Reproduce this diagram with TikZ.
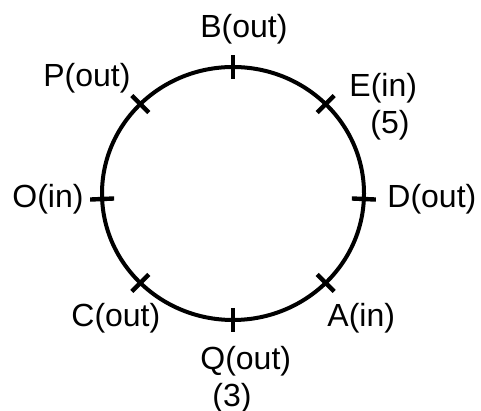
\documentclass[tikz,border=0pt]{standalone}
\usepackage{fontspec}
\setmainfont{Liberation Sans}
\begin{document}
\begin{tikzpicture}[x=0.5pt, y=0.5pt, ring/.style={line width=2pt}, tickmark/.style={line width=2.2pt},
  lbl/.style={inner sep=0pt, anchor=base west, font=\fontsize{16}{18.5}\selectfont}]
  \useasboundingbox (0,0) rectangle (481,411);
  \coordinate (ctr) at (233,217.5);
  \draw[ring] (ctr) ellipse [x radius=131, y radius=126.5];
  \foreach \a in {90,45,-2.5,-45,-90,-135,182.5,135}
    \draw[tickmark, shift={(ctr)}] (\a:119 and 114.5) -- (\a:143 and 138.5);
  \node[lbl] (bout) at (200,373) {B(out)}; \node[lbl] (pout) at (43,324) {P(out)};
  \node[lbl] (ein) at (349,314) {E(in)}; \node[lbl] (efive) at (370,277) {(5)};
  \node[lbl] (oin) at (12,203) {O(in)}; \node[lbl] (dout) at (387,203) {D(out)};
  \node[lbl] (cout) at (71,84) {C(out)}; \node[lbl] (ain) at (327,84) {A(in)};
  \node[lbl] (qout) at (200,41) {Q(out)}; \node[lbl] (qthree) at (212,4) {(3)};
\end{tikzpicture}
\end{document}
